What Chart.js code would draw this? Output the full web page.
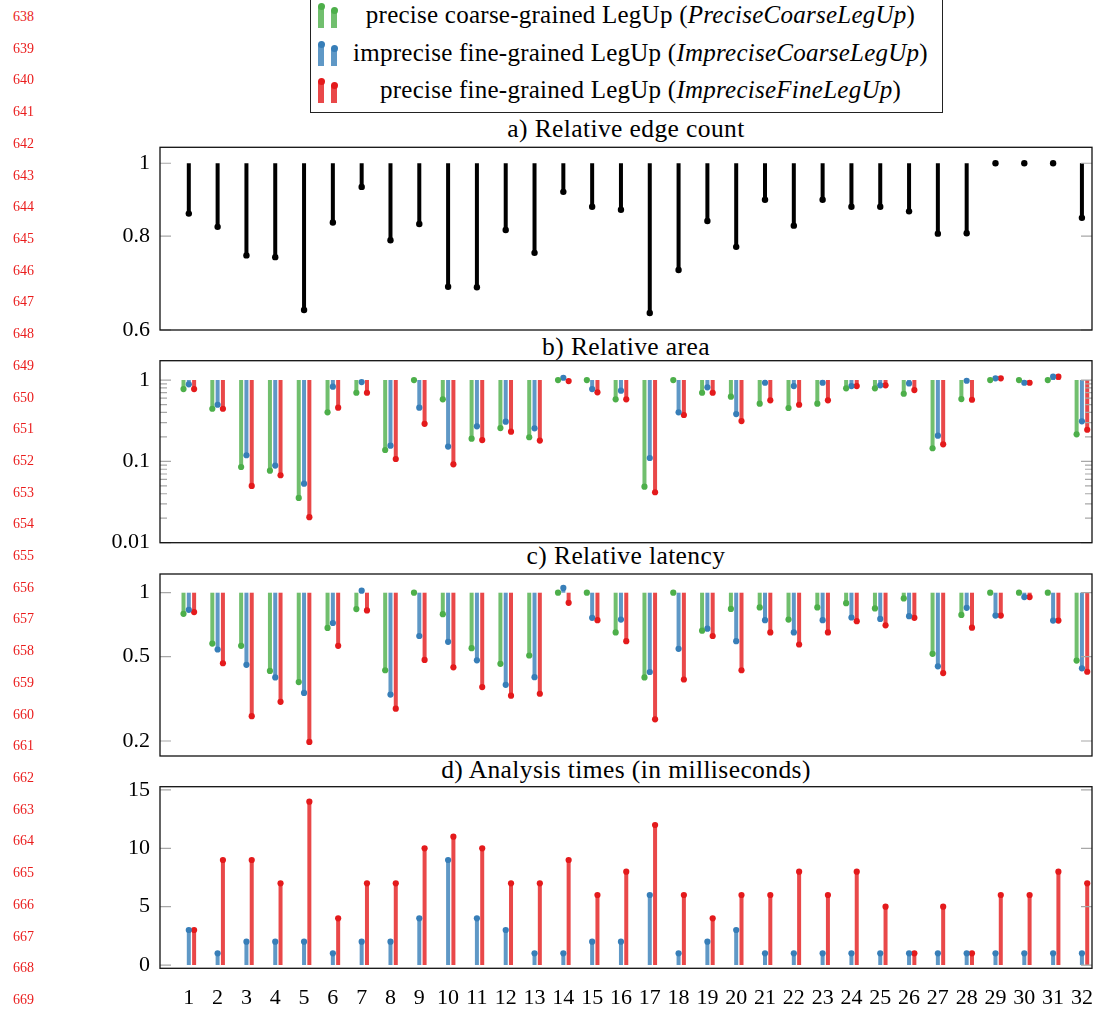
<!DOCTYPE html>
<html><head><meta charset="utf-8">
<script src="https://cdn.jsdelivr.net/npm/chart.js@4.4.0/dist/chart.umd.min.js"></script>
<style>
body{margin:0;width:1102px;height:1013px;position:relative;background:#fff;overflow:hidden;font-family:"Liberation Serif",serif;color:#000;}
canvas{position:absolute;left:0;}
.ln{position:absolute;left:0;width:34px;text-align:right;color:#ea1c1c;font-size:14px;line-height:14px;}
.title{position:absolute;left:160px;width:932px;text-align:center;font-size:25.5px;letter-spacing:0.4px;line-height:26px;white-space:nowrap;}
#legend{position:absolute;left:310px;top:-2px;width:633px;height:115px;border:1px solid #222;box-sizing:border-box;background:#fff;}
.lrow{position:absolute;left:0;width:100%;height:30px;}
.ltext{position:absolute;left:28px;right:0;text-align:center;font-size:25px;letter-spacing:0.25px;line-height:30px;white-space:nowrap;}
.ib{position:absolute;width:6px;}
.id{position:absolute;width:7px;height:7px;border-radius:50%;}
</style>
</head><body>
<div id="legend"></div>
<div class="title" style="top:116px">a) Relative edge count</div>
<div class="title" style="top:334px">b) Relative area</div>
<div class="title" style="top:543px">c) Relative latency</div>
<div class="title" style="top:757px">d) Analysis times (in milliseconds)</div>
<canvas id="ca" width="1102" height="205" style="top:135px"></canvas>
<canvas id="cb" width="1102" height="205" style="top:348px"></canvas>
<canvas id="cc" width="1102" height="205" style="top:562px"></canvas>
<canvas id="cd" width="1102" height="239" style="top:774px"></canvas>
<script>
// ---------- data ----------
const categories = ['1','2','3','4','5','6','7','8','9','10','11','12','13','14','15','16','17','18','19','20','21','22','23','24','25','26','27','28','29','30','31','32'];
const seriesNames = ['PreciseCoarseLegUp','ImpreciseCoarseLegUp','ImpreciseFineLegUp'];
const seriesLabels = ['precise coarse-grained LegUp','imprecise fine-grained LegUp','precise fine-grained LegUp'];

const edgeCount = [0.857,0.823,0.754,0.750,0.638,0.834,0.930,0.790,0.830,0.685,0.684,0.815,0.760,0.916,0.875,0.867,0.632,0.721,0.838,0.774,0.894,0.826,0.894,0.875,0.875,0.863,0.806,0.807,1,1,1,0.846];

const areaPreciseCoarse   = [0.775,0.444,0.0853,0.0769,0.0355,0.401,0.698,0.138,1.0,0.579,0.190,0.257,0.198,1.0,1.0,0.579,0.0489,1.0,0.698,0.624,0.512,0.453,0.512,0.791,0.791,0.679,0.145,0.584,1,1,1,0.215];
const areaImpreciseCoarse = [0.885,0.497,0.119,0.0887,0.0532,0.828,0.945,0.156,0.457,0.152,0.270,0.308,0.255,1.068,0.775,0.740,0.110,0.401,0.813,0.382,0.927,0.844,0.927,0.844,0.861,0.910,0.207,0.98,1.049,0.927,1.099,0.311];
const areaImpreciseFine   = [0.775,0.444,0.0499,0.0675,0.0206,0.457,0.698,0.107,0.290,0.092,0.183,0.232,0.180,0.972,0.706,0.579,0.0417,0.372,0.698,0.313,0.563,0.497,0.563,0.844,0.861,0.754,0.162,0.573,1.049,0.927,1.099,0.245];

const latPreciseCoarse   = [0.795,0.576,0.562,0.428,0.379,0.682,0.837,0.431,1.0,0.792,0.548,0.462,0.506,1.0,1.0,0.650,0.399,1.0,0.662,0.839,0.852,0.747,0.852,0.893,0.843,0.940,0.515,0.786,1,1,1,0.479];
const latImpreciseCoarse = [0.830,0.540,0.457,0.399,0.337,0.720,1.022,0.331,0.625,0.587,0.480,0.368,0.400,1.053,0.761,0.747,0.423,0.544,0.677,0.591,0.742,0.650,0.742,0.764,0.752,0.775,0.450,0.849,0.780,0.954,0.739,0.440];
const latImpreciseFine   = [0.810,0.465,0.262,0.306,0.198,0.562,0.825,0.284,0.482,0.445,0.359,0.327,0.334,0.896,0.742,0.591,0.253,0.390,0.625,0.431,0.650,0.570,0.650,0.734,0.702,0.761,0.418,0.684,0.780,0.954,0.739,0.424];

const timeImpreciseCoarse = [3,1,2,2,2,1,2,2,4,9,4,3,1,1,2,2,6,1,2,3,1,1,1,1,1,1,1,1,1,1,1,1];
const timeImpreciseFine   = [3,9,9,7,14,4,7,7,10,11,10,7,7,9,6,8,12,6,4,6,6,8,6,8,5,1,5,1,6,6,8,7];

const edgeTicks = [0.6, 0.8, 1];
const areaTicks = [0.01, 0.1, 1];
const areaMinorTicks = [0.02,0.03,0.04,0.05,0.06,0.07,0.08,0.09,0.2,0.3,0.4,0.5,0.6,0.7,0.8,0.9];
const latTicks = [0.2, 0.5, 1];
const timeTicks = [0, 5, 10, 15];

// ---------- styles ----------
const COLORS = {
  green:{bar:'rgba(77,175,74,0.8)', dot:'#4daf4a'},
  blue:{bar:'rgba(55,126,184,0.8)', dot:'#377eb8'},
  red:{bar:'rgba(228,26,28,0.8)', dot:'#e41a1c'}
};
const FONT = {family:'"Liberation Serif", serif', size:22};

// line numbers
for (let n = 638, k = 0; n <= 669; n++, k++) {
  const d = document.createElement('div');
  d.className = 'ln'; d.textContent = String(n);
  d.style.top = (17 + k * 31.71 - 7) + 'px';
  document.body.appendChild(d);
}

// legend
const legendColors = ['green','blue','red'];
const legend = document.getElementById('legend');
seriesLabels.forEach((lab, i) => {
  const row = document.createElement('div');
  row.className = 'lrow'; row.style.top = (1 + i * 37.5) + 'px';
  const c = COLORS[legendColors[i]];
  [[7, 4], [20, 8]].forEach(([x, t]) => {
    const b = document.createElement('div'); b.className = 'ib';
    b.style.left = x + 'px'; b.style.top = (t + 2) + 'px'; b.style.height = (26 - t) + 'px'; b.style.background = c.bar;
    row.appendChild(b);
    const d = document.createElement('div'); d.className = 'id';
    d.style.left = (x - 0.5) + 'px'; d.style.top = (t - 1) + 'px'; d.style.background = c.dot;
    row.appendChild(d);
  });
  const t = document.createElement('div'); t.className = 'ltext';
  t.innerHTML = lab + ' (<i>' + seriesNames[i] + '</i>)';
  row.appendChild(t);
  legend.appendChild(row);
});

// ---------- plugins ----------
const dotPlugin = {
  id: 'dots',
  afterDatasetDraw(chart, args) {
    const ds = chart.data.datasets[args.index];
    if (!ds.dotColor) return;
    const {ctx, chartArea: a, scales: {y}} = chart;
    ctx.save();
    ctx.beginPath(); ctx.rect(a.left, a.top - 1, a.right - a.left, a.bottom - a.top + 2); ctx.clip();
    ctx.fillStyle = ds.dotColor;
    args.meta.data.forEach((el, i) => {
      const d = ds.data[i];
      if (!d || d.y == null) return;
      const v = Array.isArray(d.y) ? d.y[1] : d.y;
      ctx.beginPath();
      ctx.arc(el.x, y.getPixelForValue(v), ds.dotRadius || 3, 0, Math.PI * 2);
      ctx.fill();
    });
    ctx.restore();
  }
};
const framePlugin = {
  id: 'frame',
  afterDraw(chart, args, opts) {
    const {ctx, chartArea: a, scales: {y}} = chart;
    ctx.save();
    ctx.strokeStyle = '#a8a8a8'; ctx.lineWidth = 1.2;
    const tick = (v, len) => {
      const py = y.getPixelForValue(v);
      ctx.beginPath();
      ctx.moveTo(a.left, py); ctx.lineTo(a.left + len, py);
      ctx.moveTo(a.right, py); ctx.lineTo(a.right - len, py);
      ctx.stroke();
    };
    (opts.major || []).forEach(v => tick(v, 11));
    (opts.minor || []).forEach(v => tick(v, 7));
    ctx.strokeStyle = '#111'; ctx.lineWidth = 1.3;
    ctx.strokeRect(a.left, a.top, a.right - a.left, a.bottom - a.top);
    ctx.restore();
  }
};

function mkData(values, floating) {
  return values.map((v, i) => ({x: i + 1, y: floating ? [1, v] : v}));
}

function makePanel(id, o) {
  new Chart(document.getElementById(id), {
    type: 'bar',
    data: {datasets: o.datasets},
    options: {
      responsive: false, animation: false, devicePixelRatio: 1,
      layout: {padding: {top: o.padTop, right: 10, left: 0, bottom: o.padBottom}},
      plugins: {legend: {display: false}, tooltip: {enabled: false}, title: {display: false},
        frame: {major: o.yTicks, minor: o.minor || []}},
      datasets: {bar: {categoryPercentage: o.catPct, barPercentage: o.barPct, borderWidth: 0, grouped: true}},
      scales: {
        x: {
          type: 'linear', min: 0, max: 32.35, offset: false,
          grid: {display: false, drawTicks: false}, border: {display: false},
          afterBuildTicks: s => { s.ticks = categories.map((c, i) => ({value: i + 1})); },
          ticks: {display: !!o.showX, autoSkip: false, maxRotation: 0, minRotation: 0, padding: 17,
            color: '#000', font: FONT, callback: (v, i) => categories[i]},
          afterFit: s => { s.height = o.xHeight; s.paddingLeft = 0; s.paddingRight = 0; }
        },
        y: {
          type: o.yType, min: o.yMin, max: o.yMax,
          grid: {display: false, drawTicks: false}, border: {display: false},
          afterBuildTicks: s => { s.ticks = o.yTicks.map(v => ({value: v})); },
          ticks: {color: '#000', font: FONT, padding: 10, autoSkip: false,
            callback: (v, i) => String(o.yTicks[i])},
          afterFit: s => { s.width = 160; s.paddingTop = 0; s.paddingBottom = 0; }
        }
      }
    },
    plugins: [dotPlugin, framePlugin]
  });
}

function ds(values, color, floating) {
  return {data: mkData(values, floating), backgroundColor: COLORS[color].bar, dotColor: COLORS[color].dot, dotRadius: 3.1};
}

makePanel('ca', {
  datasets: [{data: mkData(edgeCount, true), backgroundColor: '#000', dotColor: '#000', dotRadius: 3.2}],
  yType: 'logarithmic', yMin: 0.6, yMax: 1.05, yTicks: edgeTicks,
  padTop: 12.3, padBottom: 10, xHeight: 0, catPct: 0.139, barPct: 1
});
makePanel('cb', {
  datasets: [ds(areaPreciseCoarse, 'green', true), ds(areaImpreciseCoarse, 'blue', true), ds(areaImpreciseFine, 'red', true)],
  yType: 'logarithmic', yMin: 0.01, yMax: 1.73, yTicks: areaTicks, minor: areaMinorTicks,
  padTop: 12.7, padBottom: 10.3, xHeight: 0, catPct: 0.552, barPct: 0.755
});
makePanel('cc', {
  datasets: [ds(latPreciseCoarse, 'green', true), ds(latImpreciseCoarse, 'blue', true), ds(latImpreciseFine, 'red', true)],
  yType: 'logarithmic', yMin: 0.17, yMax: 1.225, yTicks: latTicks,
  padTop: 12, padBottom: 11, xHeight: 0, catPct: 0.552, barPct: 0.755
});
makePanel('cd', {
  datasets: [{data: [], backgroundColor: COLORS.green.bar, dotColor: COLORS.green.dot},
    ds(timeImpreciseCoarse, 'blue', false), ds(timeImpreciseFine, 'red', false)],
  yType: 'linear', yMin: -0.28, yMax: 15.28, yTicks: timeTicks,
  padTop: 12.7, padBottom: 0, xHeight: 44.7, catPct: 0.552, barPct: 0.755, showX: true
});
</script>
</body></html>
